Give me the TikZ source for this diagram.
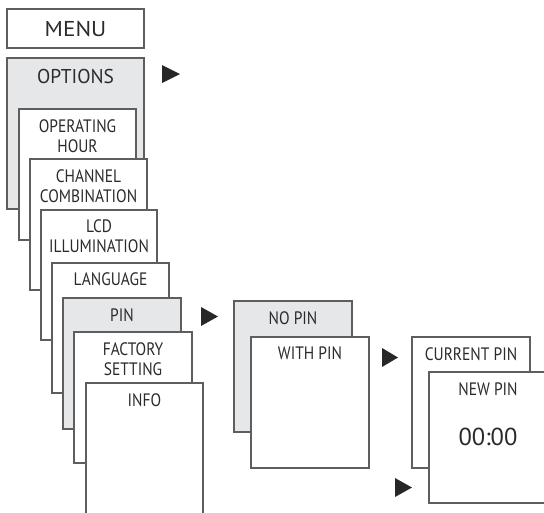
\documentclass[tikz,border=0pt]{standalone}
\usepackage{fontspec}
\setmainfont[FakeStretch=0.86]{PT Sans}
\newfontfamily\menufont[FakeStretch=1.08]{PT Sans}
\newfontfamily\optfont[FakeStretch=0.97]{PT Sans}
\newfontfamily\codefont[FakeStretch=1.0]{PT Sans}
\usetikzlibrary{calc}
\definecolor{edge}{HTML}{5E5E5E}
\definecolor{shade}{HTML}{E6E7E8}
\definecolor{ink}{HTML}{2B2B2B}
\begin{document}
\begin{tikzpicture}[x=1pt,y=-1pt,
  box/.style={draw=edge, line width=1.1pt, fill=white, minimum width=117pt,
    minimum height=131pt, anchor=north west, inner sep=0pt, outer sep=0pt},
  gbox/.style={box, fill=shade},
  lbl/.style={text=ink, font=\fontsize{18}{20}\selectfont, anchor=base, inner sep=0pt},
  big/.style={lbl, font=\menufont\fontsize{21.5}{24}\selectfont},
  mid/.style={lbl, font=\optfont\fontsize{20}{24}\selectfont},
  huge/.style={lbl, font=\codefont\fontsize{24.5}{28}\selectfont},
  tri/.style={fill=ink!90!black}
]
\useasboundingbox (0,0) rectangle (544,512);
\clip (0,0) rectangle (544,512);

% MENU
\node[box, minimum width=137pt, minimum height=39pt] (menu) at (7,9) {};
\node[big] (tmenu) at ($(menu.north)+(0,27.5)$) {MENU};

% OPTIONS
\node[gbox, minimum width=137pt, minimum height=151pt] (opt) at (7,58) {};
\node[mid] (topt) at ($(opt.north)+(0,25)$) {OPTIONS};

\node[box] (oh) at (19,109) {};
\node[lbl] (toh1) at ($(oh.north)+(0,23)$) {OPERATING};
\node[lbl] (toh2) at ($(oh.north)+(0,43)$) {HOUR};

\node[box] (ch) at (30,159) {};
\node[lbl] (tch1) at ($(ch.north)+(0,23)$) {CHANNEL};
\node[lbl] (tch2) at ($(ch.north)+(0,43)$) {COMBINATION};

\node[box, minimum width=116pt, minimum height=130pt] (lcd) at (41,210) {};
\node[lbl] (tlcd1) at ($(lcd.north)+(0,22)$) {LCD};
\node[lbl] (tlcd2) at ($(lcd.north)+(0,42)$) {ILLUMINATION};

\node[box, minimum height=130pt] (lang) at (52,263) {};
\node[lbl] (tlang) at ($(lang.north)+(0,22)$) {LANGUAGE};

\node[gbox, minimum width=118pt] (pin) at (63,298) {};
\node[lbl] (tpin) at ($(pin.north)+(0,23.5)$) {PIN};

\node[box, minimum width=118pt] (fac) at (74,332) {};
\node[lbl] (tfac1) at ($(fac.north)+(0,23.5)$) {FACTORY};
\node[lbl] (tfac2) at ($(fac.north)+(0,43.5)$) {SETTING};

\node[box, minimum height=140pt] (info) at (86,383) {};
\node[lbl] (tinfo) at ($(info.north)+(0,23)$) {INFO};

% second column
\node[gbox, minimum width=118pt] (nopin) at (234,301) {};
\node[lbl] (tnopin) at ($(nopin.north)+(0,23)$) {NO PIN};

\node[box, minimum width=118pt] (wpin) at (251,337) {};
\node[lbl] (twpin) at ($(wpin.north)+(0,22.5)$) {WITH PIN};

% third column
\node[box, minimum width=118pt] (cur) at (412,337) {};
\node[lbl] (tcur) at ($(cur.north)+(0,23)$) {CURRENT PIN};

\node[box, minimum width=118pt] (newpin) at (429,372) {};
\node[lbl] (tnew) at ($(newpin.north)+(0,23)$) {NEW PIN};
\node[huge] (tcode) at ($(newpin.north)+(0,73)$) {00:00};

% triangles
\fill[tri] (162,65) -- (180,74) -- (162,83) -- cycle;
\fill[tri] (201,307) -- (218,316.5) -- (201,326) -- cycle;
\fill[tri] (382,348) -- (398,357.5) -- (382,367) -- cycle;
\fill[tri] (395,478) -- (412,487.5) -- (395,497) -- cycle;
\end{tikzpicture}
\end{document}
